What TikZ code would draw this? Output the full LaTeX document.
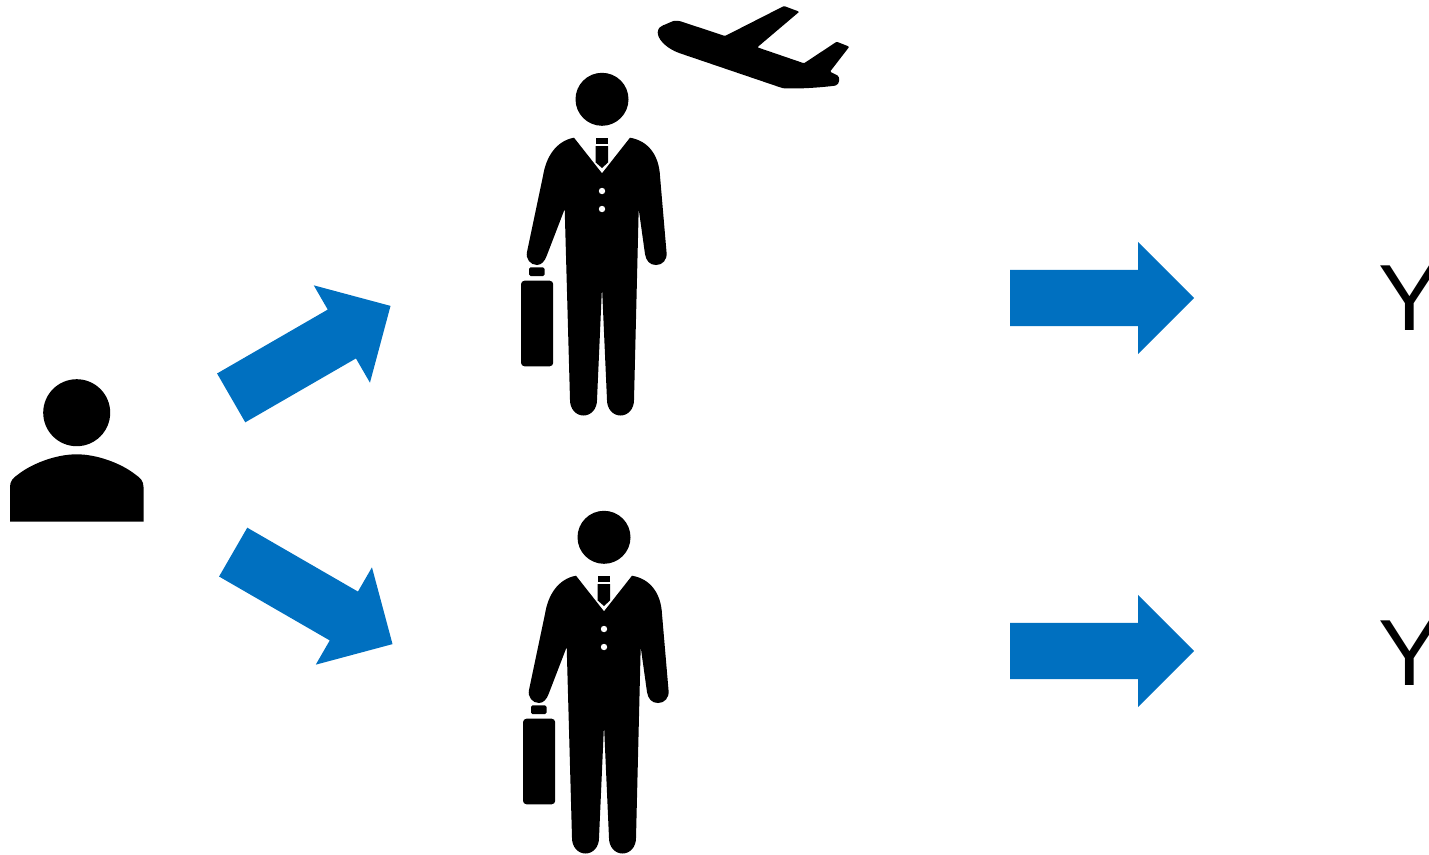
\documentclass[tikz,border=0pt]{standalone}
\usepackage{fontspec}
\usepackage{xcolor}
\usetikzlibrary{shapes.arrows, positioning}
\setmainfont{Liberation Sans}
\definecolor{ArrowBlue}{HTML}{0070c0}

\begin{document}
\begin{tikzpicture}[
    x=1pt, y=-1pt,
    bigarrow/.style={single arrow, draw=none, fill=ArrowBlue, anchor=tail, inner sep=0pt,
                     text height=56pt, text depth=0pt, text width=0pt,
                     minimum width=112pt, minimum height=184pt,
                     single arrow head extend=28pt, single arrow tip angle=90,
                     single arrow head indent=0pt},
    bigletter/.style={anchor=base, inner sep=0pt, font=\fontsize{94}{100}\selectfont},
    suitman/.pic={
        % head, body with arms and legs
        \fill (602,99.3) circle[radius=26.5];
        \fill (574,137.7) -- (602,173.3) -- (630,137.7)
            .. controls (649,141) and (659,156) .. (660,176)
            -- (666.5,252)
            .. controls (667.5,260) and (662.5,265) .. (656,265)
            .. controls (650,265) and (646,261) .. (645,254)
            -- (638.7,209) -- (634,400)
            .. controls (634,409) and (628,415.5) .. (620.5,415.5)
            .. controls (613,415.5) and (607,409) .. (607,400)
            -- (602,287) -- (597,400)
            .. controls (597,409) and (591,415.5) .. (583.5,415.5)
            .. controls (576,415.5) and (570,409) .. (570,400)
            -- (564.7,209) -- (547,255)
            .. controls (545,261) and (541.5,265) .. (537,265)
            .. controls (530.5,265) and (525.5,259) .. (527,252)
            -- (543,176)
            .. controls (546,157) and (556,141) .. (574,137.7) -- cycle;
        % tie
        \fill (595.7,137.7) rectangle (608,144.3);
        \fill (595.7,146) -- (608,146) -- (608,162.5) -- (602,168) -- (595.7,162.5) -- cycle;
        % buttons
        \fill[white] (602,191) circle[radius=3.2];
        \fill[white] (602,209) circle[radius=3.2];
        % briefcase
        \fill[rounded corners=1.5pt] (529,267.3) rectangle (544.5,276);
        \fill[rounded corners=3.5pt] (521,280.7) rectangle (553.2,366.3);
    }
]

\path[clip, use as bounding box] (0,0) rectangle (1429,854);

% person on the left
\fill (76.7,412.7) circle[radius=33.5];
\fill (10,521.7) -- (10,487)
    .. controls (10,481) and (13,478) .. (18,474.5)
    .. controls (32,463.5) and (56,454.3) .. (76.7,454.3)
    .. controls (97.4,454.3) and (121.4,463.5) .. (135.4,474.5)
    .. controls (140.4,478) and (143.5,481) .. (143.5,487)
    -- (143.5,521.7) -- cycle;

% the two men
\pic at (0,0) {suitman};
\pic at (2,438) {suitman};

% plane
\fill[rounded corners=1pt] (657.7,33)
    .. controls (658,28) and (661,26) .. (664,25)
    -- (673.3,21)
    .. controls (676,20.5) and (679,20.8) .. (681.7,21.7)
    -- (725,36) -- (784,6) -- (799.3,11.7) -- (757.3,47.3) -- (804,63.3)
    -- (836.7,41.7) -- (849.3,46.7) -- (830,71.7) -- (836.7,75)
    .. controls (840,77) and (840,84) .. (835,85.7)
    .. controls (820,87.5) and (800,89) .. (783.3,88.3)
    -- (778.3,86.7) -- (680,53.3)
    .. controls (668,49) and (659,41) .. (657.7,33) -- cycle;

% arrows
\node[bigarrow, rotate=30] (up) at (231,398) {};
\node[bigarrow, rotate=-30] (down) at (233,552) {};
\node[bigarrow] (right1) at (1010,298) {};
\node[bigarrow] (right2) at (1010,651) {};

% clipped letters
\node[bigletter] (y1) at (1410,330) {Y};
\node[bigletter] (y2) at (1410,685) {Y};

\end{tikzpicture}
\end{document}
